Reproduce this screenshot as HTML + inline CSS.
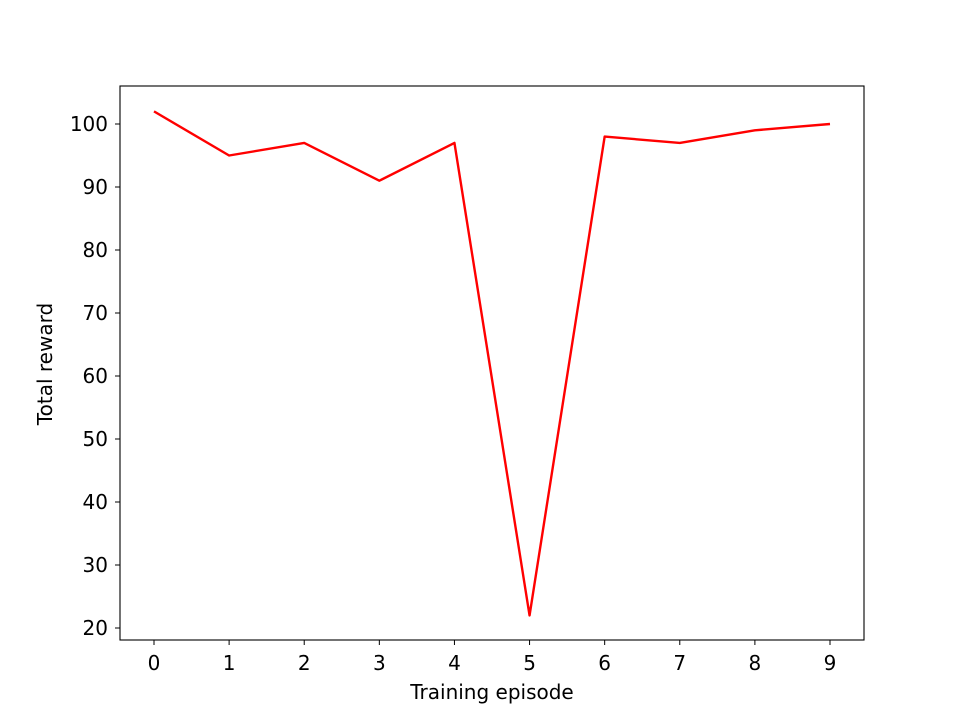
<!DOCTYPE html>
<html><head><meta charset="utf-8"><style>
body{margin:0;background:#fff;}
svg text{font-family:"DejaVu Sans","Liberation Sans",sans-serif;font-size:20px;fill:#000;}
</style></head><body>
<svg id="chart" width="960" height="720" xmlns="http://www.w3.org/2000/svg">
<rect width="960" height="720" fill="#fff"/>
<g id="plot"></g>
</svg>
<script>
const episodes = [0,1,2,3,4,5,6,7,8,9];
const rewards = [102,95,97,91,97,22,98,97,99,100];
const yTicks = [20,30,40,50,60,70,80,90,100];
const xTicks = [0,1,2,3,4,5,6,7,8,9];
const L=120,R=864,T=86,B=640;
const x=v=>154+(v-0)*(830-154)/9;
const y=v=>628-(v-20)*6.3;
const NS="http://www.w3.org/2000/svg";
const g=document.getElementById('plot');
function mk(t,a){const e=document.createElementNS(NS,t);for(const k in a)e.setAttribute(k,a[k]);g.appendChild(e);return e;}
const pts=episodes.map((e,i)=>x(e)+','+y(rewards[i])).join(' ');
const line=mk('polyline',{points:pts,fill:'none',stroke:'#ff0000','stroke-width':2.4,'stroke-linejoin':'round'});


const fr=mk('rect',{x:L,y:T,width:R-L,height:B-T,fill:'none',stroke:'#000','stroke-width':1.1});


yTicks.forEach(v=>{
  mk('line',{x1:L-5,x2:L,y1:y(v),y2:y(v),stroke:'#000','stroke-width':1});
  const t=mk('text',{x:L-12,y:y(v)+7,'text-anchor':'end'});t.textContent=v;
  
  
});
xTicks.forEach(v=>{
  mk('line',{x1:x(v),x2:x(v),y1:B,y2:B+5,stroke:'#000','stroke-width':1});
  const t=mk('text',{x:x(v),y:B+30,'text-anchor':'middle'});t.textContent=v;
  
  
});
const xt=mk('text',{x:492,y:699,'text-anchor':'middle'});xt.textContent='Training episode';


const yt=mk('text',{x:0,y:0,'text-anchor':'middle',transform:'translate(52,364) rotate(-90)'});yt.textContent='Total reward';


</script>
</body></html>
